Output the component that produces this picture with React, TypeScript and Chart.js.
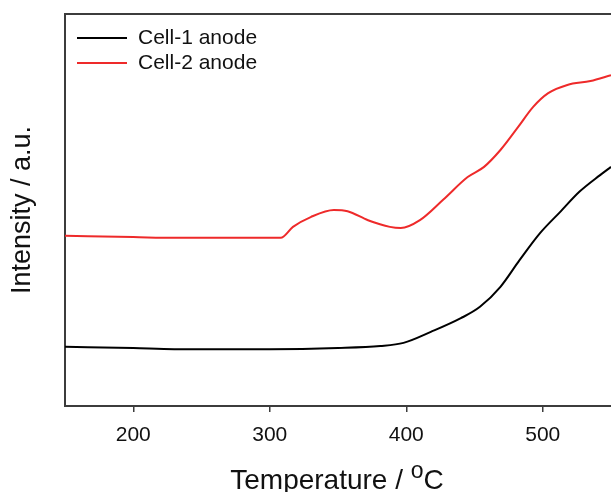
import React, { useEffect, useRef } from 'react';
import { Chart, registerables } from 'chart.js';

Chart.register(...registerables);

const temps1 = [150, 200, 230, 300, 350, 381, 398, 418, 440, 454, 469, 483, 498, 513, 527, 542, 550];
const cell1 = [15.1, 14.8, 14.5, 14.5, 14.8, 15.3, 16.1, 18.9, 22.4, 25.3, 30.4, 37.2, 44.1, 49.6, 54.7, 58.9, 61.0];
const temps2 = [150, 200, 230, 308, 317, 330, 347, 357, 372, 388, 396, 410, 427, 445, 457, 469, 482, 493, 504, 518, 535, 550];
const cell2 = [43.4, 43.1, 42.9, 42.9, 45.7, 48.2, 50.0, 49.7, 47.4, 45.7, 45.4, 47.4, 52.6, 58.4, 61.0, 65.3, 71.2, 76.3, 79.8, 81.9, 82.9, 84.4];
const xTicks = [200, 300, 400, 500];
const seriesNames = ['Cell-1 anode', 'Cell-2 anode'];
const seriesColors = ['#000000', '#ee2a2a'];

const FONT = "'Liberation Sans', Arial, sans-serif";
const AXIS = '#3c3c3c';

const overlay = {
  id: 'overlay',
  afterDraw(chart: any) {
    const { ctx, chartArea } = chart;
    ctx.save();
    // top frame line
    ctx.strokeStyle = AXIS;
    ctx.lineWidth = 2;
    ctx.beginPath();
    ctx.moveTo(chartArea.left - 1, chartArea.top);
    ctx.lineTo(chartArea.right, chartArea.top);
    ctx.stroke();

    // legend
    ctx.font = `21px ${FONT}`;
    ctx.textBaseline = 'middle';
    ctx.textAlign = 'left';
    seriesNames.forEach((name, i) => {
      const y = 38 + i * 25;
      ctx.strokeStyle = seriesColors[i];
      ctx.lineWidth = 2;
      ctx.beginPath();
      ctx.moveTo(77, y);
      ctx.lineTo(127, y);
      ctx.stroke();
      ctx.fillStyle = '#111';
      ctx.fillText(name, 138, y);
    });

    // x title with superscript o
    const big = `28px ${FONT}`;
    const small = `23px ${FONT}`;
    const p1 = 'Temperature / ';
    const p2 = 'o';
    const p3 = 'C';
    ctx.font = big;
    const w1 = ctx.measureText(p1).width;
    const w3 = ctx.measureText(p3).width;
    ctx.font = small;
    const w2 = ctx.measureText(p2).width;
    const total = w1 + w2 + w3;
    const cx = 337;
    let x = cx - total / 2;
    const base = 489;
    ctx.textBaseline = 'alphabetic';
    ctx.fillStyle = '#111';
    ctx.font = big;
    ctx.fillText(p1, x, base);
    x += w1;
    ctx.font = small;
    ctx.fillText(p2, x, base - 11);
    x += w2;
    ctx.font = big;
    ctx.fillText(p3, x, base);
    ctx.restore();
  },
};

export default function App() {
  const ref = useRef<HTMLCanvasElement>(null);
  useEffect(() => {
    if (!ref.current) return;
    const chart = new Chart(ref.current, {
      type: 'line',
      data: {
        datasets: [
          {
            label: seriesNames[0],
            data: temps1.map((t, i) => ({ x: t, y: cell1[i] })),
            borderColor: seriesColors[0],
            borderWidth: 2,
            pointRadius: 0,
            cubicInterpolationMode: 'monotone',
            fill: false,
          },
          {
            label: seriesNames[1],
            data: temps2.map((t, i) => ({ x: t, y: cell2[i] })),
            borderColor: seriesColors[1],
            borderWidth: 2,
            pointRadius: 0,
            cubicInterpolationMode: 'monotone',
            fill: false,
          },
        ],
      },
      options: {
        animation: false,
        responsive: false,
        devicePixelRatio: 1,
        layout: { padding: { top: 14, right: 0, left: 0, bottom: 0 } },
        plugins: { legend: { display: false }, tooltip: { enabled: false } },
        scales: {
          x: {
            type: 'linear',
            min: 150,
            max: 550,
            afterBuildTicks: (scale: any) => {
              scale.ticks = xTicks.map((v) => ({ value: v }));
            },
            afterFit: (scale: any) => {
              scale.height = 86;
            },
            ticks: {
              color: '#111',
              font: { family: FONT, size: 21 },
              padding: 11,
              maxRotation: 0,
              autoSkip: false,
            },
            grid: {
              display: true,
              drawOnChartArea: false,
              drawTicks: true,
              tickLength: 6,
              color: AXIS,
              lineWidth: 1.5,
            },
            border: { display: true, color: AXIS, width: 2 },
          },
          y: {
            type: 'linear',
            min: 0,
            max: 100,
            afterFit: (scale: any) => {
              scale.width = 65;
            },
            ticks: { display: false },
            grid: { display: false, drawTicks: false },
            border: { display: true, color: AXIS, width: 2 },
            title: {
              display: true,
              text: 'Intensity / a.u.',
              color: '#111',
              font: { family: FONT, size: 27, lineHeight: 1.1 },
              padding: { top: 8, bottom: 0 },
            },
          },
        },
      },
      plugins: [overlay],
    } as any);
    return () => chart.destroy();
  }, []);
  return (
    <div style={{ position: 'absolute', left: 0, top: 0, width: 611, height: 492, background: '#fff' }}>
      <canvas ref={ref} width={611} height={492} style={{ display: 'block' }} />
    </div>
  );
}
